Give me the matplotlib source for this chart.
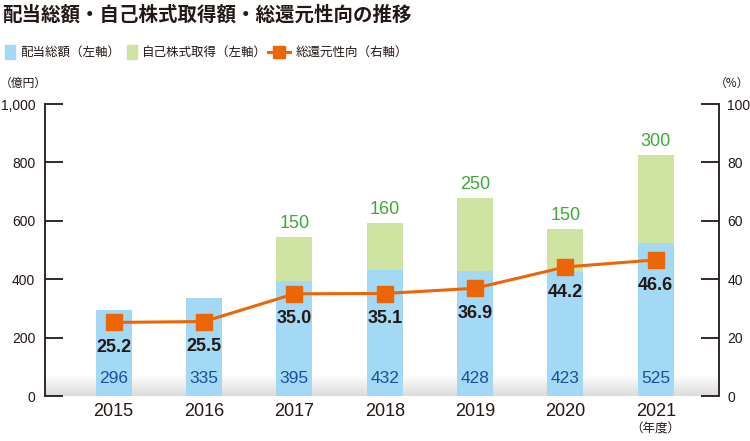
import numpy as np
import matplotlib
matplotlib.use("Agg")
import matplotlib.pyplot as plt
from matplotlib.patches import Rectangle
from matplotlib.lines import Line2D
from matplotlib.colors import LinearSegmentedColormap

plt.rcParams['font.family'] = ['Noto Sans CJK JP', 'DejaVu Sans']

years = ['2015', '2016', '2017', '2018', '2019', '2020', '2021']
dividends = [296, 335, 395, 432, 428, 423, 525]
buybacks = [0, 0, 150, 160, 250, 150, 300]
payout = [25.2, 25.5, 35.0, 35.1, 36.9, 44.2, 46.6]
left_ticks = [0, 200, 400, 600, 800, 1000]
left_tick_labels = ['0', '200', '400', '600', '800', '1,000']
right_ticks = [0, 20, 40, 60, 80, 100]

title = '配当総額・自己株式取得額・総還元性向の推移'
legend_labels = ['配当総額（左軸）', '自己株式取得（左軸）', '総還元性向（右軸）']

BLUE = '#A3D9F5'
GREEN = '#CFE3A3'
ORANGE = '#EC6608'
DARK = '#231815'
BLUE_TXT = '#1D4E9E'
GREEN_TXT = '#3BAA35'
NUM_FONT = ['Liberation Sans', 'DejaVu Sans']

fig = plt.figure(figsize=(7.5, 4.41), dpi=100)
ax = fig.add_axes([45/750, 45/441, (719-45)/750, (396-104)/441])
ax2 = ax.twinx()

x = np.arange(len(years))
W = 0.4

# gradient at the bottom
grad = np.linspace(0, 1, 50).reshape(-1, 1)
cmap = LinearSegmentedColormap.from_list('g', ['#DCDCDC', '#FFFFFF'])
ax.imshow(grad, extent=[0, 1, 0, 0.075], transform=ax.transAxes, cmap=cmap,
          aspect='auto', origin='lower', zorder=0.5)

ax.bar(x, dividends, width=W, color=BLUE, zorder=1)
ax.bar(x, buybacks, width=W, bottom=dividends, color=GREEN, zorder=1)

ax.set_xlim(-0.76, 6.70)
ax.set_ylim(0, 1000)
ax2.set_ylim(0, 100)

for i, v in enumerate(dividends):
    ax.text(x[i], 60, str(v), ha='center', va='center', color=BLUE_TXT,
            fontsize=12.5, family=NUM_FONT, zorder=3)
for i, v in enumerate(buybacks):
    if v > 0:
        ax.text(x[i], dividends[i] + v + 45, str(v), ha='center', va='center',
                color=GREEN_TXT, fontsize=13, family=NUM_FONT, zorder=3)

ax2.plot(x, payout, color=ORANGE, lw=2.2, marker='s', ms=12, zorder=4)
for i, v in enumerate(payout):
    ax2.text(x[i], v - 8.6, f'{v:.1f}', ha='center', va='center', color=DARK,
             fontsize=13, fontweight='bold', family=NUM_FONT, zorder=5)

for a in (ax, ax2):
    a.spines['top'].set_visible(False)
    a.spines['bottom'].set_visible(False)
    a.set_facecolor('none')
ax.spines['right'].set_visible(False)
ax2.spines['left'].set_visible(False)
ax.spines['left'].set_color(DARK)
ax.spines['left'].set_linewidth(1.3)
ax2.spines['right'].set_color(DARK)
ax2.spines['right'].set_linewidth(1.3)

ax.set_yticks(left_ticks)
ax.set_yticklabels(left_tick_labels, family=NUM_FONT, fontsize=10, color=DARK)
ax.tick_params(axis='y', direction='in', length=13, width=1.3, color=DARK, pad=7)
ax2.set_yticks(right_ticks)
ax2.set_yticklabels([str(t) for t in right_ticks], family=NUM_FONT, fontsize=10, color=DARK)
ax2.tick_params(axis='y', direction='in', length=13, width=1.3, color=DARK, pad=6)

ax.set_xticks(x)
ax.set_xticklabels(years, fontsize=13, color=DARK, family=NUM_FONT)
ax.tick_params(axis='x', length=0, pad=5)
ax.text(x[-1], -0.09, '（年度）', transform=ax.get_xaxis_transform(),
        ha='center', va='top', fontsize=9, color=DARK)

# title
fig.text(2/750, 1 - 15/441, title, fontsize=14, fontweight='bold', color=DARK,
         ha='left', va='center')

# legend
ly = 1 - 52/441
fig.patches.append(Rectangle((5/750, ly - 7/441), 10/750, 14/441, transform=fig.transFigure,
                             color=BLUE, figure=fig))
fig.text(20/750, ly, legend_labels[0], fontsize=9, color=DARK, ha='left', va='center')
fig.patches.append(Rectangle((127/750, ly - 7/441), 10/750, 14/441, transform=fig.transFigure,
                             color=GREEN, figure=fig))
fig.text(142/750, ly, legend_labels[1], fontsize=9, color=DARK, ha='left', va='center')
fig.lines.append(Line2D([268/750, 290/750], [ly, ly], transform=fig.transFigure,
                        color=ORANGE, lw=2.2, figure=fig))
fig.lines.append(Line2D([279/750], [ly], transform=fig.transFigure, color=ORANGE,
                        marker='s', ms=9, lw=0, figure=fig))
fig.text(296/750, ly, legend_labels[2], fontsize=9, color=DARK, ha='left', va='center')

fig.text(0/750, 1 - 83/441, '（億円）', fontsize=8.5, color=DARK, ha='left', va='center')
fig.text(749/750, 1 - 83/441, '（%）', fontsize=8.5, color=DARK, ha='right', va='center')

fig.savefig('out.png', dpi=100)
